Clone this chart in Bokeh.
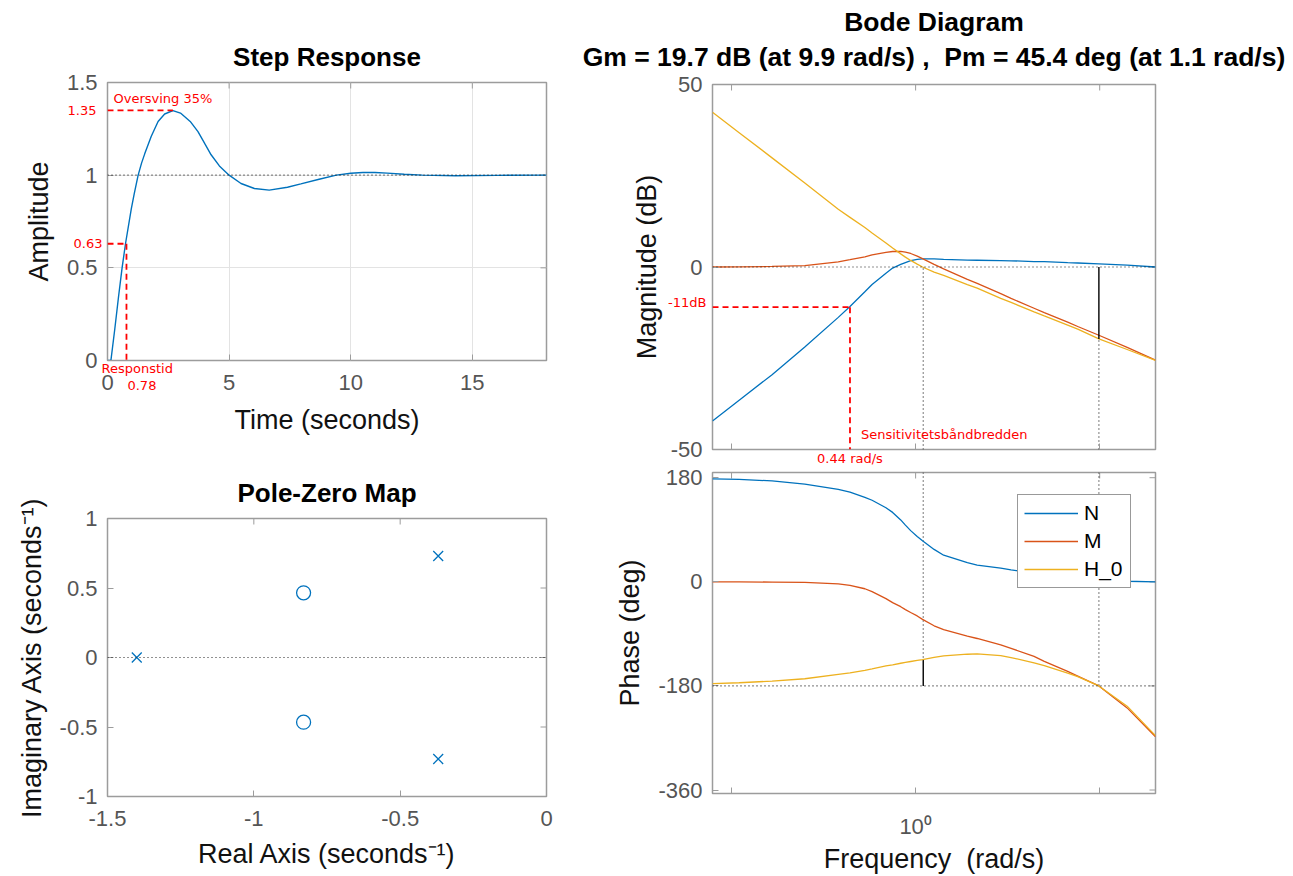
import math
from bokeh.plotting import figure
from bokeh.layouts import row, column
from bokeh.models import (Range1d, FixedTicker, Label, Span, Title, Legend, LegendItem)
from bokeh.embed import file_html
from bokeh.resources import INLINE

# ---------------- data ----------------
step_t = [0, 0.14, 0.3, 0.45, 0.6, 0.74, 0.98, 1.1, 1.26, 1.4, 1.53, 1.8, 2.08, 2.35, 2.69,
          3.0, 3.4, 3.72, 4.0, 4.26, 4.6, 5.0, 5.49, 6.04, 6.65, 7.4, 7.95, 8.7, 9.41, 10.0,
          10.5, 11.0, 11.5, 12.2, 12.95, 14.3, 16.0, 18.05]
step_y = [0, 0, 0.17, 0.34, 0.5, 0.63, 0.82, 0.9, 1.0, 1.065, 1.115, 1.21, 1.29, 1.33, 1.348,
          1.335, 1.29, 1.235, 1.17, 1.11, 1.05, 1.0, 0.955, 0.928, 0.919, 0.935, 0.953, 0.978,
          1.0, 1.01, 1.014, 1.014, 1.011, 1.005, 1.0, 0.997, 0.999, 1.0]
step_final = 1.0
rise_time = 0.78
rise_level = 0.63
peak_time = 2.69
peak_level = 1.35
overshoot_pct = 35

step_xlim = [0, 18.05]
step_ylim = [0, 1.5]
step_xticks = [0, 5, 10, 15]
step_xtick_labels = ["0", "5", "10", "15"]
step_yticks = [0, 0.5, 1, 1.5]
step_ytick_labels = ["0", "0.5", "1", "1.5"]

pole_re = [-1.40, -0.37, -0.37]
pole_im = [0.0, 0.73, -0.73]
zero_re = [-0.83, -0.83]
zero_im = [0.465, -0.465]
pz_xlim = [-1.5, 0]
pz_ylim = [-1, 1]
pz_xticks = [-1.5, -1, -0.5, 0]
pz_xtick_labels = ["-1.5", "-1", "-0.5", "0"]
pz_yticks = [-1, -0.5, 0, 0.5, 1]
pz_ytick_labels = ["-1", "-0.5", "0", "0.5", "1"]

w = [0.0788, 0.11, 0.166, 0.25, 0.38, 0.44, 0.53, 0.58, 0.69, 0.75, 0.83, 0.88, 0.94,
     1.02, 1.09, 1.26, 1.42, 1.91, 2.16, 2.9, 3.3, 4.4, 5.0, 6.7, 7.6, 9.9, 14.1, 20.1]
mag_N = [-42.2, -36.5, -29.5, -21.9, -13.8, -10.8, -6.8, -4.8, -1.7, -0.3, 0.7, 1.2, 1.75,
         2.1, 2.2, 2.2, 2.1, 1.9, 1.85, 1.75, 1.7, 1.5, 1.45, 1.2, 1.1, 0.85, 0.5, 0.0]
mag_M = [0.0, 0.05, 0.15, 0.4, 1.4, 2.0, 2.8, 3.3, 4.0, 4.25, 4.3, 4.1, 3.7, 3.0, 2.3,
         0.7, -0.5, -3.4, -4.5, -7.3, -8.6, -11.3, -12.5, -15.1, -16.3, -18.7, -22.0, -25.5]
mag_H0 = [42.4, 36.8, 29.9, 23.0, 15.8, 13.6, 10.8, 9.3, 6.6, 5.2, 3.6, 2.7, 1.8, 0.8, 0.0,
          -1.4, -2.3, -4.8, -5.8, -8.6, -9.7, -12.3, -13.4, -15.9, -17.0, -19.7, -22.6, -25.6]
ph_N = [178, 177, 174.5, 169, 160, 155, 146, 141, 128, 120, 107, 98, 88.5, 78.5, 71, 56, 46,
        33, 29, 23.7, 20.8, 15, 13, 8, 6.5, 4, 1, 0]
ph_M = [0, 0, -0.5, -1, -3.6, -6, -12, -17, -29, -36, -43, -48, -53, -59, -65, -76, -82.5,
        -94, -98, -109, -115, -129, -137.5, -155, -163, -180, -218, -268]
ph_H0 = [-176, -174.5, -171.6, -167.6, -160, -157.5, -153, -150.5, -145.5, -143.5, -140.8,
         -139.3, -137.8, -136, -134.6, -130.8, -128.2, -125.2, -124.5, -127.5, -131, -140,
         -145, -158, -164, -180, -215, -266]

gm_db = 19.7
w_gm = 9.9
pm_deg = 45.4
w_pm = 1.1
sens_w = 0.44
sens_db = -11

bode_xlim = [w[0], w[-1]]
bode_major = [1]
bode_minor = [0.1, 10]
bode_box_ticks = [0.1, 1, 10]
bode_major_label = "10\u2070"
mag_ylim = [-50, 50]
mag_yticks = [-50, 0, 50]
mag_ytick_labels = ["-50", "0", "50"]
ph_ylim = [-366, 189]
ph_yticks = [-360, -180, 0, 180]
ph_ytick_labels = ["-360", "-180", "0", "180"]

# ---------------- styling ----------------
FONT = "Liberation Sans"
RED_FONT = "DejaVu Sans"
TICK_COL = "#555555"
BOX_COL = "#9c9c9c"
BLUE = "#0072BD"
ORANGE = "#D95319"
YELLOW = "#EDB120"
RED = "#ff0000"
DOT = "1 3"
DASH = "6 4"
REF = "#222222"
NB = "\u00a0"


def style(p):
    p.outline_line_color = BOX_COL
    p.outline_line_width = 1.5
    for ax in p.axis:
        ax.axis_line_color = None
        ax.major_tick_in = 6
        ax.major_tick_out = 0
        ax.major_tick_line_color = BOX_COL
        ax.minor_tick_in = 6
        ax.minor_tick_out = 0
        ax.minor_tick_line_color = BOX_COL
        ax.major_label_text_font = FONT
        ax.major_label_text_font_size = "22px"
        ax.major_label_text_color = TICK_COL
        ax.major_label_standoff = 10
        ax.axis_label_text_font = FONT
        ax.axis_label_text_font_size = "27px"
        ax.axis_label_text_font_style = "normal"
        ax.axis_label_text_color = "#111111"
        ax.axis_label_standoff = 10


def set_ticks(ax, ticks, labels, minor=()):
    ax.ticker = FixedTicker(ticks=ticks, minor_ticks=list(minor))
    ax.major_label_overrides = {t: l for t, l in zip(ticks, labels)}


def box_ticks(p, xticks, ytop, xright, yticks):
    # inward tick marks on the top and right edges (half of each mark is clipped)
    p.scatter(xticks, [ytop] * len(xticks), marker="dash", size=12, angle=math.pi / 2,
              line_color=BOX_COL, line_width=1)
    p.scatter([xright] * len(yticks), yticks, marker="dash", size=12,
              line_color=BOX_COL, line_width=1)


def add_title(p, text, standoff, size="26px"):
    p.add_layout(Title(text=text, align="center", text_font=FONT, text_font_size=size,
                       text_font_style="bold", text_color="#000000", standoff=standoff),
                 "above")


def title_label(p, x, y, text, yo):
    p.add_layout(Label(x=x, y=y, y_offset=yo, text=text, text_align="center",
                       text_baseline="middle", text_font=FONT, text_font_size="26.5px",
                       text_font_style="bold", text_color="#000000"), "above")


def red_label(p, x, y, text, xo=0, yo=0, align="left", side="center"):
    lab = Label(x=x, y=y, x_offset=xo, y_offset=yo, text=text, text_align=align,
                text_baseline="middle", text_color=RED, text_font=RED_FONT,
                text_font_size="13px")
    p.add_layout(lab, side)


common = dict(output_backend="svg", toolbar_location=None, title=None)

# ---------------- Step response ----------------
p1 = figure(width=580, height=459, x_range=Range1d(*step_xlim), y_range=Range1d(*step_ylim),
            min_border_left=107, min_border_right=34, min_border_top=82,
            min_border_bottom=99, **common)
style(p1)
set_ticks(p1.xaxis[0], step_xticks, step_xtick_labels)
set_ticks(p1.yaxis[0], step_yticks, step_ytick_labels)
p1.xaxis[0].major_label_standoff = 14
p1.xaxis[0].axis_label_standoff = 12
p1.xgrid.grid_line_color = "#e3e3e3"
p1.ygrid.grid_line_color = "#e3e3e3"
p1.xaxis[0].axis_label = "Time (seconds)"
p1.yaxis[0].axis_label = "Amplitude"
add_title(p1, "Step Response", 22)
p1.add_layout(Span(location=step_final, dimension="width", line_color=REF,
                   line_dash=DOT, line_width=1.2))
box_ticks(p1, step_xticks, step_ylim[1], step_xlim[1], step_yticks)
p1.line(step_t, step_y, line_color=BLUE, line_width=1.4)
p1.line([0, peak_time], [peak_level, peak_level], line_color=RED, line_dash=DASH, line_width=1.8)
p1.line([0, rise_time], [rise_level, rise_level], line_color=RED, line_dash=DASH, line_width=1.8)
p1.line([rise_time, rise_time], [rise_level, 0], line_color=RED, line_dash=DASH, line_width=1.8)
red_label(p1, 0, peak_level, f"Oversving {overshoot_pct}%", xo=6, yo=12)
red_label(p1, 0, peak_level, f"{peak_level:.2f}", xo=-11, align="right", side="right")
red_label(p1, 0, rise_level, f"{rise_level:.2f}", xo=-5, align="right", side="below")
red_label(p1, 0, 0, "Responstid", xo=-6, yo=-8, side="above")
red_label(p1, rise_time, 0, f"{rise_time:.2f}", xo=1, yo=-25, side="above")

# ---------------- Pole-zero map ----------------
p2 = figure(width=580, height=417, x_range=Range1d(*pz_xlim), y_range=Range1d(*pz_ylim),
            min_border_left=107, min_border_right=34, min_border_top=59,
            min_border_bottom=80, **common)
style(p2)
set_ticks(p2.xaxis[0], pz_xticks, pz_xtick_labels)
set_ticks(p2.yaxis[0], pz_yticks, pz_ytick_labels)
p2.xaxis[0].major_label_standoff = 14
p2.xaxis[0].axis_label_standoff = 10
p2.xgrid.grid_line_color = None
p2.ygrid.grid_line_color = None
p2.xaxis[0].axis_label = "Real Axis (seconds\u207b\u00b9)"
p2.yaxis[0].axis_label = "Imaginary Axis (seconds\u207b\u00b9)"
add_title(p2, "Pole-Zero Map", 21)
p2.add_layout(Span(location=0, dimension="width", line_color=REF,
                   line_dash=DOT, line_width=1.2))
box_ticks(p2, pz_xticks, pz_ylim[1], pz_xlim[1], pz_yticks)
p2.scatter(pole_re, pole_im, marker="x", size=14, line_color=BLUE, line_width=1.3)
p2.scatter(zero_re, zero_im, marker="circle", size=14, line_color=BLUE, fill_color=None,
           line_width=1.3)

# ---------------- Bode magnitude ----------------
wr = Range1d(*bode_xlim)
p3 = figure(width=710, height=466, x_axis_type="log", x_range=wr, y_range=Range1d(*mag_ylim),
            min_border_left=132, min_border_right=135, min_border_top=84,
            min_border_bottom=17, **common)
style(p3)
set_ticks(p3.xaxis[0], bode_major, [" "], bode_minor)
p3.xaxis[0].major_label_text_font_size = "10px"
p3.xaxis[0].major_label_text_color = None
p3.xaxis[0].major_label_standoff = 0
set_ticks(p3.yaxis[0], mag_yticks, mag_ytick_labels)
p3.yaxis[0].axis_label_standoff = 6
p3.xgrid.grid_line_color = None
p3.ygrid.grid_line_color = None
p3.yaxis[0].axis_label = "Magnitude (dB)"
w_mid = 10 ** ((math.log10(bode_xlim[0]) + math.log10(bode_xlim[1])) / 2)
title_label(p3, w_mid, mag_ylim[1],
            "Gm = %.1f dB (at %.1f rad/s) ,%s Pm = %.1f deg (at %.1f rad/s)"
            % (gm_db, w_gm, NB, pm_deg, w_pm), 28)
title_label(p3, w_mid, mag_ylim[1], "Bode Diagram", 63)
p3.add_layout(Span(location=0, dimension="width", line_color=REF,
                   line_dash=DOT, line_width=1.2))
box_ticks(p3, bode_box_ticks, mag_ylim[1], bode_xlim[1], mag_yticks)
p3.line([w_pm, w_pm], [mag_ylim[0], 0], line_color=REF, line_dash=DOT, line_width=1.2)
p3.line([w_gm, w_gm], [mag_ylim[0], -gm_db], line_color=REF, line_dash=DOT, line_width=1.2)
p3.line(w, mag_N, line_color=BLUE, line_width=1.3)
p3.line(w, mag_M, line_color=ORANGE, line_width=1.3)
p3.line(w, mag_H0, line_color=YELLOW, line_width=1.3)
p3.line([w_gm, w_gm], [0, -gm_db], line_color="#000000", line_width=1.4)
p3.line([w[0], sens_w], [sens_db, sens_db], line_color=RED, line_dash=DASH, line_width=1.8)
p3.line([sens_w, sens_w], [sens_db, mag_ylim[0]], line_color=RED, line_dash=DASH,
        line_width=1.8)
red_label(p3, sens_w, mag_ylim[0], "Sensitivitetsbåndbredden", xo=11, yo=15)
red_label(p3, w[0], sens_db, f"{sens_db}dB", xo=-6, yo=5, align="right", side="right")
red_label(p3, sens_w, mag_ylim[0], f"{sens_w:.2f} rad/s", yo=-9, align="center",
          side="right")

# ---------------- Bode phase ----------------
p4 = figure(width=710, height=410, x_axis_type="log", x_range=wr,
            y_range=Range1d(*ph_ylim),
            min_border_left=132, min_border_right=135, min_border_top=6,
            min_border_bottom=80, **common)
style(p4)
set_ticks(p4.xaxis[0], bode_major, [bode_major_label], bode_minor)
set_ticks(p4.yaxis[0], ph_yticks, ph_ytick_labels)
p4.xaxis[0].major_label_standoff = 20
p4.xaxis[0].axis_label_standoff = 2
p4.xgrid.grid_line_color = None
p4.ygrid.grid_line_color = None
p4.xaxis[0].axis_label = "Frequency" + NB + " (rad/s)"
p4.yaxis[0].axis_label = "Phase (deg)"
p4.add_layout(Span(location=-180, dimension="width", line_color=REF,
                   line_dash=DOT, line_width=1.2))
box_ticks(p4, bode_box_ticks, ph_ylim[1], bode_xlim[1], ph_yticks)
p4.line([w_pm, w_pm], [ph_ylim[1], -180 + pm_deg], line_color=REF, line_dash=DOT,
        line_width=1.2)
p4.line([w_gm, w_gm], [ph_ylim[1], -180], line_color=REF, line_dash=DOT, line_width=1.2)
p4.line([w_pm, w_pm], [-180 + pm_deg, -180], line_color="#000000", line_width=1.4)
rN = p4.line(w, ph_N, line_color=BLUE, line_width=1.3)
rM = p4.line(w, ph_M, line_color=ORANGE, line_width=1.3)
rH = p4.line(w, ph_H0, line_color=YELLOW, line_width=1.3)
leg = Legend(items=[LegendItem(label="N", renderers=[rN]),
                    LegendItem(label="M", renderers=[rM]),
                    LegendItem(label="H_0", renderers=[rH])],
             location=(305, 205), label_text_font=FONT, label_text_font_size="21px",
             label_text_color="#000000", glyph_width=54, glyph_height=24,
             label_standoff=6, label_width=40, label_height=24, spacing=4, padding=6,
             margin=0, border_line_color="#333333", border_line_width=1.2,
             background_fill_color="white", background_fill_alpha=1.0)
p4.add_layout(leg)

layout = row(column(p1, p2), column(p3, p4))
with open("out.html", "w") as f:
    f.write(file_html(layout, INLINE, title="plot"))
